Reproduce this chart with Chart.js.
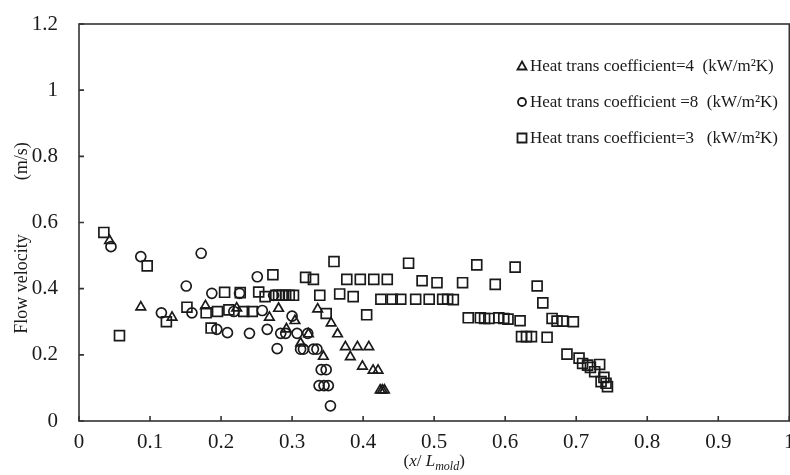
<!DOCTYPE html>
<html>
<head>
<meta charset="utf-8">
<script src="https://cdn.jsdelivr.net/npm/chart.js@4.4.0/dist/chart.umd.min.js"></script>
<style>
  html, body { margin: 0; padding: 0; background: #fff; overflow: hidden; width: 790px; height: 475px; }
</style>
</head>
<body>
<canvas id="grafico" width="798" height="475"></canvas>
<script>
// dati (x / L_mold, velocita m/s)
var triX = [0.043, 0.087, 0.131, 0.178, 0.222, 0.268, 0.281, 0.292, 0.304, 0.312, 0.323, 0.336, 0.344, 0.355, 0.364, 0.375, 0.382, 0.392, 0.399, 0.408, 0.414, 0.421, 0.424, 0.427, 0.430];
var triY = [0.545, 0.344, 0.313, 0.348, 0.341, 0.313, 0.340, 0.278, 0.303, 0.235, 0.263, 0.338, 0.195, 0.296, 0.263, 0.224, 0.194, 0.224, 0.165, 0.224, 0.153, 0.153, 0.093, 0.093, 0.093];

var cirX = [0.045, 0.087, 0.116, 0.151, 0.159, 0.172, 0.187, 0.194, 0.209, 0.218, 0.226, 0.240, 0.251, 0.258, 0.265, 0.274, 0.279, 0.284, 0.291, 0.300, 0.307, 0.312, 0.316, 0.322, 0.330, 0.335, 0.341, 0.348, 0.338, 0.345, 0.351, 0.354];
var cirY = [0.527, 0.497, 0.327, 0.408, 0.327, 0.507, 0.386, 0.277, 0.267, 0.331, 0.386, 0.265, 0.436, 0.334, 0.277, 0.380, 0.219, 0.265, 0.265, 0.317, 0.265, 0.217, 0.217, 0.265, 0.217, 0.217, 0.155, 0.155, 0.107, 0.107, 0.107, 0.046];

var sqX = [0.035, 0.057, 0.096, 0.123, 0.152, 0.179, 0.186, 0.195, 0.205, 0.211, 0.227, 0.232, 0.244, 0.253, 0.262, 0.273, 0.277, 0.281, 0.286, 0.291, 0.296, 0.302, 0.319, 0.330, 0.339, 0.348, 0.359, 0.367, 0.377, 0.386, 0.396, 0.405, 0.415, 0.425, 0.434, 0.441, 0.453, 0.464, 0.474, 0.483, 0.493, 0.504, 0.512, 0.519, 0.527, 0.540, 0.548, 0.560, 0.565, 0.571, 0.577, 0.586, 0.591, 0.598, 0.604, 0.614, 0.621, 0.623, 0.630, 0.637, 0.645, 0.653, 0.659, 0.666, 0.673, 0.681, 0.687, 0.696, 0.704, 0.709, 0.716, 0.720, 0.726, 0.733, 0.735, 0.739, 0.742, 0.744];
var sqY = [0.570, 0.258, 0.469, 0.300, 0.344, 0.327, 0.281, 0.331, 0.389, 0.336, 0.388, 0.331, 0.331, 0.390, 0.376, 0.442, 0.380, 0.380, 0.380, 0.380, 0.380, 0.380, 0.434, 0.428, 0.380, 0.325, 0.482, 0.384, 0.428, 0.376, 0.428, 0.321, 0.428, 0.368, 0.428, 0.368, 0.368, 0.477, 0.368, 0.424, 0.368, 0.418, 0.368, 0.368, 0.367, 0.418, 0.312, 0.472, 0.312, 0.310, 0.310, 0.413, 0.312, 0.310, 0.308, 0.465, 0.303, 0.255, 0.255, 0.255, 0.408, 0.357, 0.253, 0.310, 0.302, 0.302, 0.202, 0.300, 0.190, 0.174, 0.169, 0.162, 0.149, 0.171, 0.119, 0.132, 0.114, 0.104];

var legendLabels = [
  'Heat trans coefficient=4  (kW/m\u00B2K)',
  'Heat trans coefficient =8  (kW/m\u00B2K)',
  'Heat trans coefficient=3   (kW/m\u00B2K)'
];
var xTickLabels = ['0', '0.1', '0.2', '0.3', '0.4', '0.5', '0.6', '0.7', '0.8', '0.9', '1'];
var yTickLabels = ['0', '0.2', '0.4', '0.6', '0.8', '1', '1.2'];
var yTitle = 'Flow velocity            (m/s)';

var INK = '#1a1a1a';
var SERIF = "'Liberation Serif', 'Times New Roman', serif";

// coppie x,y per il grafico
function toPoints(xs, ys) {
  var out = [];
  for (var i = 0; i < xs.length; i++) {
    out.push({ x: xs[i], y: ys[i] });
  }
  return out;
}

// cornice, tacche interne e titoli degli assi
var cornice = {
  id: 'cornice',
  afterDraw: function(chart) {
    var ctx = chart.ctx;
    var a = chart.chartArea;
    var xs = chart.scales.x;
    var ys = chart.scales.y;
    ctx.save();
    ctx.strokeStyle = '#333';
    ctx.lineWidth = 1.6;
    ctx.strokeRect(a.left, a.top, a.right - a.left, a.bottom - a.top);
    ctx.beginPath();
    xs.ticks.forEach(function(t) {
      var px = xs.getPixelForValue(t.value);
      ctx.moveTo(px, a.bottom);
      ctx.lineTo(px, a.bottom - 5);
    });
    ys.ticks.forEach(function(t) {
      var py = ys.getPixelForValue(t.value);
      ctx.moveTo(a.left, py);
      ctx.lineTo(a.left + 5, py);
    });
    ctx.stroke();

    ctx.fillStyle = INK;

    // titolo asse y (ruotato)
    ctx.save();
    ctx.translate(22, 238);
    ctx.rotate(-Math.PI / 2);
    ctx.font = '18px ' + SERIF;
    ctx.textAlign = 'center';
    ctx.textBaseline = 'middle';
    ctx.fillText(yTitle, 0, 0);
    ctx.restore();

    // titolo asse x con pedice
    var cx = (a.left + a.right) / 2;
    var base = 466;
    var parts = [
      { t: '(', f: '17px ' + SERIF, dy: 0 },
      { t: 'x', f: 'italic 17px ' + SERIF, dy: 0 },
      { t: '/ ', f: '17px ' + SERIF, dy: 0 },
      { t: 'L', f: 'italic 17px ' + SERIF, dy: 0 },
      { t: 'mold', f: 'italic 12px ' + SERIF, dy: 4 },
      { t: ')', f: '17px ' + SERIF, dy: 0 }
    ];
    var w = 0;
    parts.forEach(function(p) { ctx.font = p.f; w += ctx.measureText(p.t).width; });
    var x0 = cx - w / 2;
    ctx.textBaseline = 'alphabetic';
    ctx.textAlign = 'left';
    parts.forEach(function(p) {
      ctx.font = p.f;
      ctx.fillText(p.t, x0, base + p.dy);
      x0 += ctx.measureText(p.t).width;
    });
    ctx.restore();
  }
};

// legenda dentro l'area del grafico
var legenda = {
  id: 'legenda',
  afterDraw: function(chart) {
    var ctx = chart.ctx;
    var rows = [66, 102, 138];
    var mx = 522;
    ctx.save();
    ctx.strokeStyle = INK;
    ctx.lineWidth = 1.8;
    for (var i = 0; i < legendLabels.length; i++) {
      var y = rows[i];
      ctx.beginPath();
      if (i === 0) {
        ctx.moveTo(mx, y - 4.5);
        ctx.lineTo(mx + 4.5, y + 3.5);
        ctx.lineTo(mx - 4.5, y + 3.5);
        ctx.closePath();
      } else if (i === 1) {
        ctx.arc(mx, y, 4, 0, Math.PI * 2);
      } else {
        ctx.rect(mx - 4.5, y - 4.5, 9, 9);
      }
      ctx.stroke();
      ctx.fillStyle = INK;
      ctx.font = '17px ' + SERIF;
      ctx.textBaseline = 'middle';
      ctx.textAlign = 'left';
      ctx.fillText(legendLabels[i], 530, y + 1);
    }
    ctx.restore();
  }
};

var ctx = document.getElementById('grafico');
var myChart = new Chart(ctx, {
  type: 'scatter',
  data: {
    datasets: [
      {
        label: legendLabels[0],
        data: toPoints(triX, triY),
        pointStyle: 'triangle',
        pointRadius: 5.5,
        borderColor: INK,
        backgroundColor: 'rgba(0,0,0,0)',
        borderWidth: 1.7
      },
      {
        label: legendLabels[1],
        data: toPoints(cirX, cirY),
        pointStyle: 'circle',
        pointRadius: 5,
        borderColor: INK,
        backgroundColor: 'rgba(0,0,0,0)',
        borderWidth: 1.7
      },
      {
        label: legendLabels[2],
        data: toPoints(sqX, sqY),
        pointStyle: 'rect',
        pointRadius: 7,
        borderColor: INK,
        backgroundColor: 'rgba(0,0,0,0)',
        borderWidth: 1.7
      }
    ]
  },
  options: {
    responsive: false,
    animation: false,
    layout: { padding: { top: 24, right: 1, left: 0, bottom: 0 } },
    plugins: {
      legend: { display: false },
      tooltip: { enabled: false }
    },
    scales: {
      x: {
        type: 'linear',
        min: 0,
        max: 1,
        grid: { display: false, drawTicks: false },
        border: { display: false },
        ticks: {
          stepSize: 0.1,
          padding: 9,
          color: INK,
          font: { family: SERIF, size: 21 },
          maxRotation: 0,
          autoSkip: false,
          callback: function(v, i) { return xTickLabels[i]; }
        },
        afterFit: function(s) {
          s.height = 54;
          s.paddingLeft = 0;
          s.paddingRight = 0;
        }
      },
      y: {
        type: 'linear',
        min: 0,
        max: 1.2,
        grid: { display: false, drawTicks: false },
        border: { display: false },
        ticks: {
          stepSize: 0.2,
          padding: 21,
          color: INK,
          font: { family: SERIF, size: 21 },
          callback: function(v, i) { return yTickLabels[i]; }
        },
        afterFit: function(s) {
          s.width = 79;
          s.paddingTop = 0;
          s.paddingBottom = 0;
        }
      }
    }
  },
  plugins: [cornice, legenda]
});
</script>
</body>
</html>
